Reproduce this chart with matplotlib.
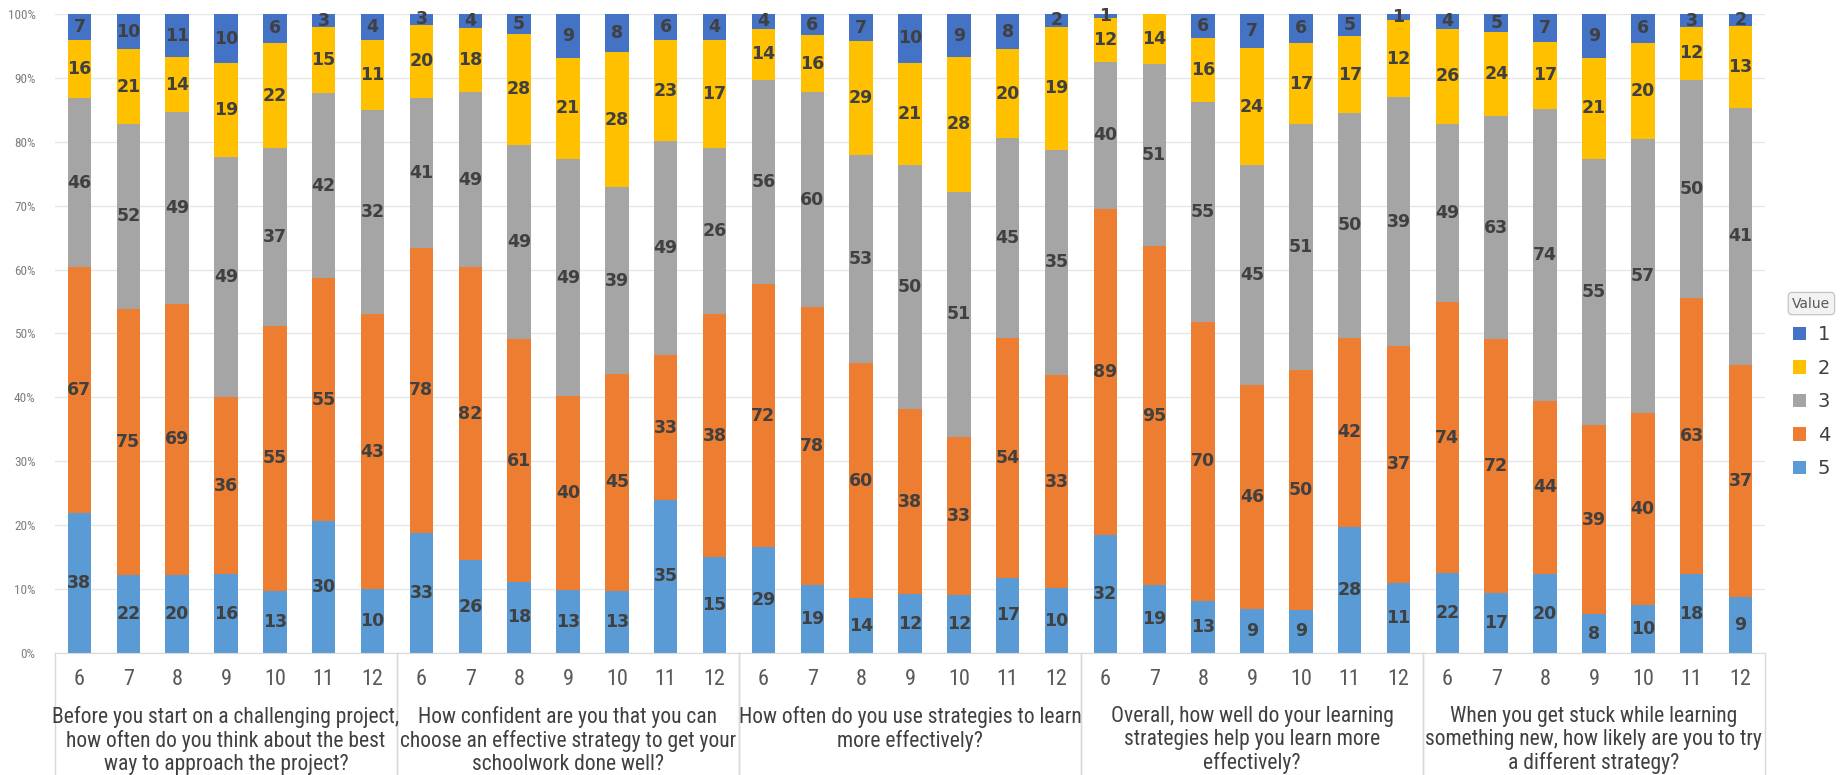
import numpy as np
import matplotlib
matplotlib.use('Agg')
import matplotlib.pyplot as plt
import matplotlib.transforms as mtransforms

# Survey questions (one group of bars each)
questions = [
    'Before you start on a challenging project,\nhow often do you think about the best\nway to approach the project?',
    'How confident are you that you can\nchoose an effective strategy to get your\nschoolwork done well?',
    'How often do you use strategies to learn\nmore effectively?',
    'Overall, how well do your learning\nstrategies help you learn more\neffectively?',
    'When you get stuck while learning\nsomething new, how likely are you to try\na different strategy?',
]
grades = ['6', '7', '8', '9', '10', '11', '12']

# Counts per answer value, grades 6..12 for each question in order
value_1 = [7, 10, 11, 10, 6, 3, 4,
           3, 4, 5, 9, 8, 6, 4,
           4, 6, 7, 10, 9, 8, 2,
           1, 0, 6, 7, 6, 5, 1,
           4, 5, 7, 9, 6, 3, 2]
value_2 = [16, 21, 14, 19, 22, 15, 11,
           20, 18, 28, 21, 28, 23, 17,
           14, 16, 29, 21, 28, 20, 19,
           12, 14, 16, 24, 17, 17, 12,
           26, 24, 17, 21, 20, 12, 13]
value_3 = [46, 52, 49, 49, 37, 42, 32,
           41, 49, 49, 49, 39, 49, 26,
           56, 60, 53, 50, 51, 45, 35,
           40, 51, 55, 45, 51, 50, 39,
           49, 63, 74, 55, 57, 50, 41]
value_4 = [67, 75, 69, 36, 55, 55, 43,
           78, 82, 61, 40, 45, 33, 38,
           72, 78, 60, 38, 33, 54, 33,
           89, 95, 70, 46, 50, 42, 37,
           74, 72, 44, 39, 40, 63, 37]
value_5 = [38, 22, 20, 16, 13, 30, 10,
           33, 26, 18, 13, 13, 35, 15,
           29, 19, 14, 12, 12, 17, 10,
           32, 19, 13, 9, 9, 28, 11,
           22, 17, 20, 8, 10, 18, 9]

series_names = ['5', '4', '3', '2', '1']
series_values = [value_5, value_4, value_3, value_2, value_1]
colors = ['#5B9BD5', '#ED7D31', '#A5A5A5', '#FFC000', '#4472C4']

narrow = ['Roboto Condensed', 'DejaVu Sans']

counts = np.array(series_values, dtype=float)
totals = counts.sum(axis=0)
shares = counts / totals * 100
x = np.arange(counts.shape[1])

fig = plt.figure(figsize=(18.45, 7.75), dpi=100)
ax = fig.add_axes([0.0298, 0.1574, 0.9268, 0.8246])

bottom = np.zeros(len(x))
containers = {}
for name, share, cnt, color in zip(series_names, shares, counts, colors):
    bars = ax.bar(x, share, bottom=bottom, width=0.48, color=color,
                  label=name, zorder=2)
    containers[name] = bars
    for xi, s, b, c in zip(x, share, bottom, cnt):
        if c > 0:
            ax.text(xi, b + s / 2, '%d' % c, ha='center', va='center',
                    fontsize=12.5, fontweight='bold', color='#404040',
                    zorder=3)
    bottom = bottom + share

ax.set_xlim(-0.5, len(x) - 0.5)
ax.set_ylim(0, 100)
ax.set_yticks(np.arange(0, 101, 10))
ax.set_yticklabels(['%d%%' % v for v in range(0, 101, 10)],
                   fontsize=9.5, color='#7F7F7F', family=narrow)
ax.yaxis.grid(True, color='#E6E6E6', linewidth=1, zorder=0)
ax.tick_params(axis='y', length=0, pad=14)
ax.set_xticks([])
for side in ['top', 'right', 'left']:
    ax.spines[side].set_visible(False)
ax.spines['bottom'].set_color('#D9D9D9')

# Grade labels and question labels under the bars
trans = mtransforms.blended_transform_factory(ax.transData, ax.transAxes)
for i in range(len(x)):
    ax.text(i, -0.042, grades[i % 7], transform=trans, ha='center',
            va='center', fontsize=16, color='#595959', family=narrow)
for g, q in enumerate(questions):
    ax.text(g * 7 + 3, -0.083, q, transform=trans, ha='center', va='top',
            fontsize=15.5, color='#404040', family=narrow, linespacing=1.12)
    for edge in [g * 7 - 0.5, g * 7 + 6.5]:
        ax.plot([edge, edge], [0, -0.3], transform=trans, color='#D9D9D9',
                linewidth=1, clip_on=False)

# Legend with the answer values, 1 on top
handles = [containers[n] for n in ['1', '2', '3', '4', '5']]
leg = fig.legend(handles, ['1', '2', '3', '4', '5'], title='Value',
                 loc='center left', bbox_to_anchor=(0.962, 0.5),
                 frameon=False, fontsize=14, handlelength=0.7,
                 handleheight=0.7, handletextpad=0.6, labelspacing=0.75,
                 title_fontsize=10)
leg.get_title().set_color('#595959')
leg.get_title().set_bbox(dict(boxstyle='round,pad=0.3', facecolor='#F2F2F2',
                              edgecolor='#BFBFBF', linewidth=0.8))
for t in leg.get_texts():
    t.set_color('#404040')

plt.savefig('out.png', dpi=100)
